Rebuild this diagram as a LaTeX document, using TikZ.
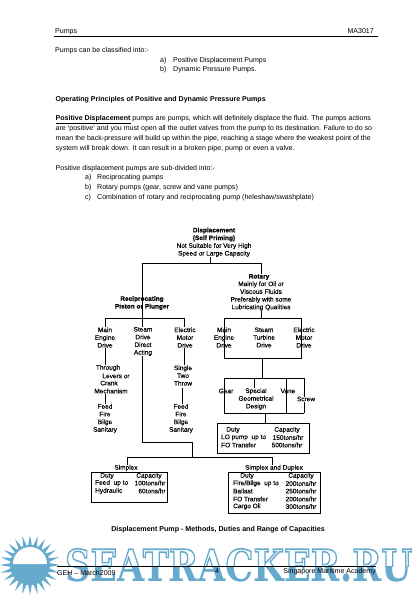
\documentclass[tikz,border=0pt]{standalone}
\usepackage{fontspec}
\setmainfont{Liberation Sans}
\newfontfamily\chartfont{Liberation Sans}[FakeBold=0.12]
\newfontfamily\chartbold{Liberation Sans Bold}[FakeBold=0.12]
\newfontfamily\wmfont{DejaVu Serif Bold}
\usepackage{xcolor}
\definecolor{wmblue}{HTML}{66AACD}
\newcommand{\wmtext}{\resizebox{347pt}{33pt}{\wmfont SEATRACKER.RU}}
\newcommand{\wmstroke}{\special{pdf:code 1 Tr 0.35 w}}
\newcommand{\wmsolid}{\special{pdf:code 0 Tr}}
\tikzset{
  bodytext/.style={anchor=west,inner sep=0,font=\fontsize{7.05}{9}\selectfont},
  lab/.style={inner sep=0,align=center,font=\fontsize{6.5}{7.7}\selectfont\chartfont},
  blab/.style={inner sep=0,align=center,font=\fontsize{6.5}{7.7}\selectfont\chartbold},
  cell/.style={inner sep=0,font=\fontsize{6.5}{7.7}\selectfont\chartfont},
  tblbox/.style={draw,inner sep=0,line width=0.6pt},
  wire/.style={line width=0.55pt}
}
\begin{document}
\begin{tikzpicture}[x=1pt,y=-1pt]
\useasboundingbox (0,0) rectangle (420,597);
% Watermark
\begin{scope}
\clip (60,540) rectangle (420,566);
\node[inner sep=0,anchor=west,text=wmblue] (wmtop) at (65,565.5) {\wmstroke\wmtext\wmsolid};
\end{scope}
\begin{scope}
\clip (60,566) rectangle (420,590);
\node[inner sep=0,anchor=west,text=wmblue] (wmbot) at (65,565.5) {\wmtext};
\end{scope}
% Sun
\foreach \a in {0,15,...,345}
  \fill[wmblue] ([shift={(\a-6:19)}]30,565) -- ([shift={(\a:30)}]30,565) -- ([shift={(\a+6:19)}]30,565) -- cycle;
\fill[wmblue] (30,565) circle (20);
\fill[white] (13,564) arc (180:360:17) -- cycle;
% Header
\node[bodytext] (hdl) at (55,32) {Pumps};
\node[bodytext,anchor=east] (hdr) at (374,31) {MA3017};
\coordinate (rula) at (54,36);
\coordinate (rulb) at (378,36);
\draw[line width=0.6pt] (rula) -- (rulb);
% Page text
\node[bodytext] (t1) at (55,51) {Pumps can be classified into:-};
\node[bodytext] (t2a) at (160,60.5) {a)};
\node[bodytext] (t2b) at (173,60.5) {Positive Displacement Pumps};
\node[bodytext] (t3a) at (160,70) {b)};
\node[bodytext] (t3b) at (173,70) {Dynamic Pressure Pumps.};
\node[bodytext,font=\fontsize{7.05}{9}\selectfont\bfseries] (t4) at (55.5,99.5) {Operating Principles of Positive and Dynamic Pressure Pumps};
\node[bodytext] (t5) at (55.5,119.5) {\textbf{\underline{Positive Displacement}} pumps are pumps, which will definitely displace the fluid. The pumps actions};
\node[bodytext] (t6) at (55.5,129) {are `positive' and you must open all the outlet valves from the pump to its destination. Failure to do so};
\node[bodytext] (t7) at (55.5,139) {mean the back-pressure will build up within the pipe, reaching a stage where the weakest point of the};
\node[bodytext] (t8) at (55.5,149) {system will break down. It can result in a broken pipe, pump or even a valve.};
\node[bodytext] (t9) at (55.5,168.5) {Positive displacement pumps are sub-divided into:-};
\node[bodytext] (t10a) at (85,178) {a)};
\node[bodytext] (t10b) at (97,178) {Reciprocating pumps};
\node[bodytext] (t11a) at (85,188) {b)};
\node[bodytext] (t11b) at (97,188) {Rotary pumps (gear, screw and vane pumps)};
\node[bodytext] (t12a) at (85,198) {c)};
\node[bodytext] (t12b) at (97,198) {Combination of rotary and reciprocating pump (heleshaw/swashplate)};
% Chart labels
\node[blab] (disp) at (214,234.5) {Displacement\\(Self Priming)};
\node[lab] (dispb) at (214,250) {Not Suitable for Very High\\Speed or Large Capacity};
\node[blab] (reci) at (142,303) {Reciprocating\\Piston or Plunger};
\node[blab] (rota) at (259,277) {Rotary};
\node[lab] (rotb) at (261,296) {Mainly for Oil or\\Viscous Fluids\\Preferably with some\\Lubricating Qualities};
\node[lab] (mainl) at (105,337.5) {Main\\Engine\\Drive};
\node[lab] (steaml) at (143,341.5) {Steam\\Drive\\Direct\\Acting};
\node[lab] (elecl) at (185,337.5) {Electric\\Motor\\Drive};
\node[lab] (mainr) at (224,337.5) {Main\\Engine\\Drive};
\node[lab] (steamr) at (264,337.5) {Steam\\Turbine\\Drive};
\node[lab] (elecr) at (304,337.5) {Electric\\Motor\\Drive};
\node[lab] (thr1) at (108,368) {Through};
\node[lab] (thr2) at (116,376) {Levers or};
\node[lab] (thr3) at (109,383) {Crank};
\node[lab] (thr4) at (111,391) {Mechanism};
\node[lab] (feedl) at (105,418.5) {Feed\\Fire\\Bilge\\Sanitary};
\node[lab] (sing) at (183,375.5) {Single\\Two\\Throw};
\node[lab] (feedm) at (181,418.5) {Feed\\Fire\\Bilge\\Sanitary};
\node[lab] (gear) at (226,391) {Gear};
\node[lab] (spec) at (256,399) {Special\\Geometrical\\Design};
\node[lab] (vane) at (288,391) {Vane};
\node[lab] (scrw) at (306,399) {Screw};
\node[lab] (simp) at (126,468) {Simplex};
\node[lab] (simd) at (274,468) {Simplex and Duplex};
% Tables
\node[tblbox,minimum width=92pt,minimum height=30pt] (lobox) at (263,438) {};
\node[cell] (lo1) at (233,430) {Duty};
\node[cell] (lo2) at (287,430) {Capacity};
\node[cell,anchor=west] (lo3) at (221,437.5) {LO pump\ \ up to};
\node[cell] (lo4) at (288,437.5) {150tons/hr};
\node[cell,anchor=west] (lo5) at (221,445) {FO Transfer};
\node[cell] (lo6) at (287,445) {500tons/hr};
\node[tblbox,minimum width=76pt,minimum height=30pt] (sibox) at (129,487) {};
\node[cell] (si1) at (107,476) {Duty};
\node[cell] (si2) at (149,476) {Capacity};
\node[cell,anchor=west] (si3) at (95,483) {Feed\ \ up to};
\node[cell] (si4) at (150,483) {100tons/hr};
\node[cell,anchor=west] (si5) at (95,491) {Hydraulic};
\node[cell] (si6) at (152,491) {60tons/hr};
\node[tblbox,minimum width=92pt,minimum height=41pt] (dubox) at (274,492.5) {};
\node[cell] (du1) at (247,476) {Duty};
\node[cell] (du2) at (301,476) {Capacity};
\node[cell,anchor=west] (du3) at (233,483.5) {Fire/Bilge\ \ up to};
\node[cell] (du4) at (301,483.5) {200tons/hr};
\node[cell,anchor=west] (du5) at (233,491) {Ballast};
\node[cell] (du6) at (301,491) {250tons/hr};
\node[cell,anchor=west] (du7) at (233,499) {FO Transfer};
\node[cell] (du8) at (301,499) {200tons/hr};
\node[cell,anchor=west] (du9) at (233,506.5) {Cargo Oil};
\node[cell] (du10) at (301,506.5) {300tons/hr};
% Junctions
\coordinate (topm) at (210,263);
\coordinate (topl) at (142,263);
\coordinate (topr) at (261,263);
\coordinate (recj) at (142,318);
\coordinate (recl) at (105,318);
\coordinate (recr) at (184,318);
\coordinate (rotj) at (261,318);
\coordinate (rotl) at (224,318);
\coordinate (rotr) at (301,318);
\coordinate (rowl) at (224,358);
\coordinate (rowr) at (301,358);
\coordinate (rowm) at (262,358);
\coordinate (gtl) at (224,378);
\coordinate (gtr) at (304,378);
\coordinate (gbl) at (224,413);
\coordinate (gbr) at (304,413);
\coordinate (gm) at (262,378);
\coordinate (gs) at (254,378);
\coordinate (gv) at (286,378);
\coordinate (gb) at (265,413);
\coordinate (sngb) at (182,388);
\coordinate (stb) at (142,442);
\coordinate (stc) at (192,442);
\coordinate (low) at (192,457);
\coordinate (lowl) at (127,457);
\coordinate (lowr) at (272,457);
% Connectors
\draw[wire] (topm |- dispb.south) -- (topm);
\draw[wire] (topl) -- (topr);
\draw[wire] (topl) -- (recj);
\draw[wire] (topr) -- (topr |- rota.north);
\draw[wire] (topr |- rotb.south) -- (rotj);
\draw[wire] (recl) -- (recr);
\draw[wire] (recl) -- (recl |- mainl.north);
\draw[wire] (recj) -- (recj |- steaml.north);
\draw[wire] (recr) -- (recr |- elecl.north);
\draw[wire] (recl |- mainl.south) -- (recl |- thr1.north);
\draw[wire] (recl |- thr4.south) -- (recl |- feedl.north);
\draw[wire] (recr |- elecl.south) -- (recr |- sing.north);
\draw[wire] (sngb) -- (sngb |- feedm.north);
\draw[wire] (recj |- steaml.south) -- (stb) -- (stc) -- (low);
\draw[wire] (lowl) -- (lowr);
\draw[wire] (lowl) -- (lowl |- simp.north);
\draw[wire] (lowr) -- (lowr |- simd.north);
\draw[wire] (rotl) -- (rotr);
\draw[wire] (rotl) -- (rowl) -- (rowr) -- (rotr);
\draw[wire] (rowm) -- (gm);
\draw[wire] (gtl) -- (gtr);
\draw[wire] (gtl) -- (gbl) -- (gbr);
\draw[wire] (gtr) -- (gtr |- scrw.north);
\draw[wire] (gbr) -- (gbr |- scrw.south);
\draw[wire] (gs) -- (gs |- spec.north);
\draw[wire] (gv) -- (gv |- gbl);
\draw[wire] (gb) -- (gb |- lobox.north);
% Caption and footer
\node[bodytext,anchor=center,font=\fontsize{7.1}{9}\selectfont\bfseries] (capt) at (218,530) {Displacement Pump - Methods, Duties and Range of Capacities};
\coordinate (fta) at (57,566);
\coordinate (ftb) at (376,566);
\draw[line width=0.6pt] (fta) -- (ftb);
\node[bodytext] (ft1) at (57,573) {GEH -- March2009};
\node[bodytext,anchor=center] (ft2) at (217,571.5) {4};
\node[bodytext,anchor=east] (ft3) at (376,572) {Singapore Maritime Academy};
\end{tikzpicture}
\end{document}
